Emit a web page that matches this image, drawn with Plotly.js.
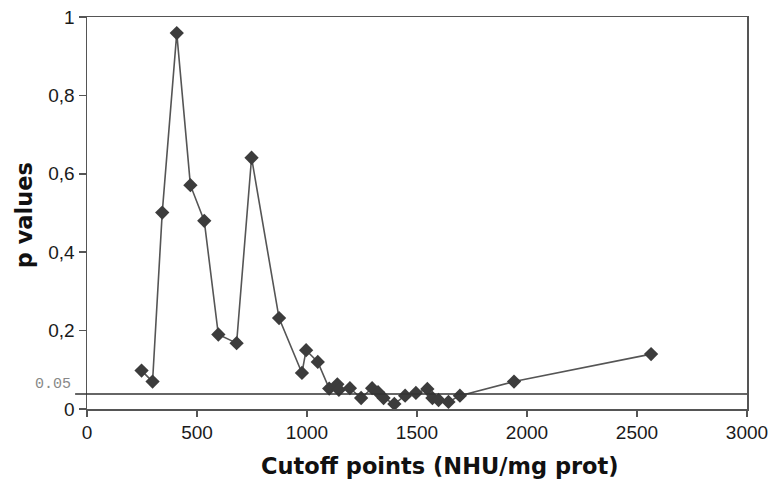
<!DOCTYPE html>
<html>
<head>
<meta charset="utf-8">
<script src="https://cdn.plot.ly/plotly-3.0.1.min.js"></script>
<style>html,body{margin:0;padding:0;background:#fff;}#chart{width:783px;height:483px;}</style>
</head>
<body>
<div id="chart"></div>
<script>
var cutoffs = [248, 298, 342, 408, 470, 533, 597, 680, 748, 873, 977, 996, 1049, 1101, 1138, 1145, 1195, 1246, 1296, 1323, 1348, 1397, 1446, 1495, 1547, 1570, 1598, 1643, 1695, 1941, 2564];
var pValues = [0.098, 0.070, 0.501, 0.959, 0.571, 0.480, 0.190, 0.168, 0.641, 0.232, 0.092, 0.150, 0.120, 0.052, 0.063, 0.049, 0.053, 0.028, 0.053, 0.043, 0.028, 0.013, 0.034, 0.041, 0.051, 0.028, 0.023, 0.018, 0.034, 0.070, 0.140];
var yTickVals = [0, 0.2, 0.4, 0.6, 0.8, 1];
var yTickText = ['0', '0,2', '0,4', '0,6', '0,8', '1'];
var xTickVals = [0, 500, 1000, 1500, 2000, 2500, 3000];
var thresholdValue = 0.038;
var thresholdLabel = '0.05';
var xTitle = 'Cutoff points (NHU/mg prot)';
var yTitle = 'p values';

var trace = {
  x: cutoffs, y: pValues, type: 'scatter', mode: 'lines+markers',
  line: {color: '#555555', width: 1.6},
  marker: {symbol: 'diamond', size: 11, color: '#3c3c3c'},
  hoverinfo: 'none', cliponaxis: false
};
var titleFont = {family: 'DejaVu Sans, Liberation Sans, Arial, sans-serif', size: 22.5, color: '#111', weight: 'bold'};
var layout = {
  width: 783, height: 483,
  margin: {l: 87, r: 36, t: 17, b: 74},
  paper_bgcolor: '#ffffff', plot_bgcolor: '#ffffff',
  showlegend: false,
  font: {family: 'Liberation Sans, Arial, sans-serif', size: 16, color: '#1a1a1a'},
  xaxis: {
    range: [0, 3000], tickvals: xTickVals, ticktext: xTickVals.map(String),
    showgrid: false, zeroline: false, showline: true, linecolor: '#555555', linewidth: 1.5,
    mirror: true, ticks: 'outside', ticklen: 6, tickcolor: '#555555', tickwidth: 1.5,
    tickfont: {size: 19, color: '#1a1a1a'}
  },
  yaxis: {
    range: [0, 1], tickvals: yTickVals, ticktext: yTickText,
    showgrid: false, zeroline: false, showline: true, linecolor: '#555555', linewidth: 1.5,
    mirror: true, ticks: 'outside', ticklen: 7, tickcolor: '#555555', tickwidth: 1.5,
    tickfont: {size: 19, color: '#1a1a1a'}
  },
  shapes: [{
    type: 'line', xref: 'paper', yref: 'y', x0: -0.018, x1: 1, y0: thresholdValue, y1: thresholdValue,
    line: {color: '#333333', width: 1.5}
  }],
  annotations: [{
    xref: 'paper', yref: 'y', x: -0.021, y: thresholdValue, xanchor: 'right', yanchor: 'bottom',
    text: thresholdLabel, showarrow: false, yshift: -1,
    font: {family: 'Liberation Mono, DejaVu Sans Mono, monospace', size: 15, color: '#888888'}
  }, {
    xref: 'paper', yref: 'paper', x: 0.535, y: -0.145, xanchor: 'center', yanchor: 'middle',
    text: xTitle, showarrow: false, font: titleFont
  }, {
    xref: 'paper', yref: 'paper', x: -0.095, y: 0.495, xanchor: 'center', yanchor: 'middle',
    text: yTitle, textangle: -90, showarrow: false, font: titleFont
  }]
};
Plotly.newPlot('chart', [trace], layout, {displayModeBar: false, staticPlot: true});
</script>
</body>
</html>
